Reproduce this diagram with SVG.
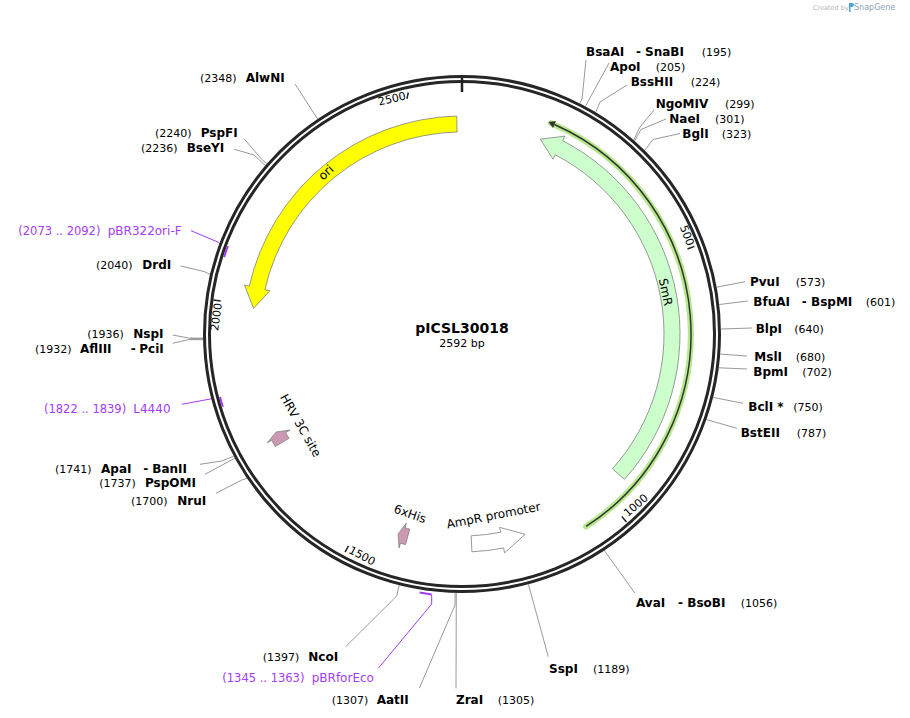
<svg xmlns="http://www.w3.org/2000/svg" width="910" height="718" viewBox="0 0 910 718">
<defs>
<style>
text { font-family: "DejaVu Sans", Verdana, sans-serif; }
.en { font-size: 12px; font-weight: bold; fill: #000; }
.num { font-size: 11px; fill: #000; }
.pr { font-size: 12px; fill: #a23cf4; }
.prn { font-size: 11.5px; fill: #a23cf4; }
.lead { stroke: #999; stroke-width: 1; fill: none; }
.plead { stroke: #a23cf4; stroke-width: 1; fill: none; }
.pmark { stroke: #a23cf4; stroke-width: 2; fill: none; }
.tick { stroke: #222; stroke-width: 1.5; }
.tl { font-size: 11px; fill: #000; }
.feat { stroke: #808080; stroke-width: 0.8; }
.fl { font-size: 12px; fill: #000; }
</style>
</defs>
<rect width="910" height="718" fill="#fff"/>

<g id="snapgene-credit">
<text x="813" y="10" style="font-size:6.5px;fill:#b5b5b5">Created by</text>
<path d="M849,3 h3 a2,2 0 0 1 0,4 h-1.5 v5 h-1.5 z" fill="#4aa3df"/>
<text x="854" y="10" style="font-size:8px;fill:#8ea2b8">SnapGene</text>
</g>

<g id="connectors">
<polyline class="lead" points="579.9,103.4 582,99 586,60"/>
<polyline class="lead" points="585.5,106.3 588,101.5 609,63"/>
<polyline class="lead" points="595.8,112.3 600,102 627,85"/>
<polyline class="lead" points="633.7,140.1 640,127 654,110"/>
<polyline class="lead" points="634.7,140.9 641,129.5 666,119"/>
<polyline class="lead" points="644.7,150.4 653,139.5 680,133.5"/>
<polyline class="lead" points="716.7,287.2 745,281.7"/>
<polyline class="lead" points="719.3,304.5 748,301"/>
<polyline class="lead" points="721,329 752,328"/>
<polyline class="lead" points="720.2,354.1 747,356"/>
<polyline class="lead" points="718.8,367.8 747,369"/>
<polyline class="lead" points="713.1,397.4 743,403.3"/>
<polyline class="lead" points="706.4,419.6 737,428.3"/>
<polyline class="lead" points="604.3,550.4 635,593.3"/>
<polyline class="lead" points="528.4,584.3 548.3,656.7"/>
<polyline class="lead" points="456.3,592.9 456,688.3"/>
<polyline class="lead" points="455.1,592.9 455,605 419.3,688.3"/>
<polyline class="lead" points="399.2,585.3 396.7,596 345.7,646.7"/>
<polyline class="plead" points="431.7,595 431.7,604 378.3,668.3"/>
<polyline class="plead" points="181.7,404.3 213,398.5 221,399"/>
<polyline class="plead" points="191,230.7 218.5,242.3 225.5,250"/>
<polyline class="lead" points="180.7,266 204,271.5 210,274.3"/>
<line x1="190" y1="338.8" x2="204" y2="338.8" stroke="#c4c4c4" stroke-width="3"/>
<polyline class="lead" points="172.7,335 190,338.3 203,338.8"/>
<polyline class="lead" points="172.7,343.3 190,339.3 203,339.5"/>
<polyline class="lead" points="200,464.3 221.7,461 233.7,456.3"/>
<polyline class="lead" points="205,474.3 233.3,459 234.9,458.5"/>
<polyline class="lead" points="216,493.3 241.7,480 247,478.4"/>
<polyline class="lead" points="295,84 317.6,119"/>
<polyline class="lead" points="244.3,139 261.7,159.3 266.9,163.6"/>
<polyline class="lead" points="234.3,149.3 254,155 265.3,165.5"/>
</g>

<g id="backbone">
<circle cx="462" cy="334" r="255" fill="none" stroke="#262626" stroke-width="8"/>
<circle cx="462" cy="334" r="255" fill="none" stroke="#fff" stroke-width="2"/>
<line x1="462" y1="78" x2="462" y2="92" stroke="#222" stroke-width="2.5"/>
<line class="tick" x1="408.3" y1="92.5" x2="406.9" y2="98.8"/>
<line class="tick" x1="694.4" y1="246.4" x2="687.5" y2="249"/>
<line class="tick" x1="626.5" y1="522" x2="621.8" y2="516.6"/>
<line class="tick" x1="345.1" y1="552.2" x2="348.4" y2="545.9"/>
<line class="tick" x1="213.5" y1="299.9" x2="220.7" y2="300.9"/>
<text class="tl" text-anchor="middle" dominant-baseline="central" transform="translate(392,99) rotate(-12.8)">2500</text>
<text class="tl" text-anchor="middle" dominant-baseline="central" transform="translate(686.7,235.5) rotate(69.4)">500</text>
<text class="tl" text-anchor="middle" dominant-baseline="central" transform="translate(636,505.5) rotate(-41.1)">1000</text>
<text class="tl" text-anchor="middle" dominant-baseline="central" transform="translate(362,556) rotate(28.3)">1500</text>
<text class="tl" text-anchor="middle" dominant-baseline="central" transform="translate(216.5,317) rotate(-82.2)">2000</text>
</g>

<g id="title">
<text x="462" y="333" text-anchor="middle" style="font-size:14px;font-weight:bold">pICSL30018</text>
<text x="462" y="347" text-anchor="middle" style="font-size:11px">2592 bp</text>
</g>

<g id="ori">
<path class="feat" fill="#ffff00" d="M456.71,116.06 A218,218 0 0 0 249.33,286.07 L244.46,284.97 L253.56,308.41 L269.82,290.69 L264.94,289.59 A202,202 0 0 1 457.10,132.06 Z"/>
<text class="fl" text-anchor="middle" dominant-baseline="central" transform="translate(326,172.5) rotate(-42)">ori</text>
</g>

<g id="SmR">
<path class="feat" fill="#ccffcc" d="M540.34,139.16 L564.97,136.20 L562.66,140.63 A218,218 0 0 1 624.43,479.40 L612.51,468.73 A202,202 0 0 0 555.27,154.82 L552.96,159.26 Z"/>
<text class="fl" text-anchor="middle" dominant-baseline="central" transform="translate(665.5,292) rotate(78.4)">SmR</text>
</g>

<g id="orf">
<path d="M586.05,526.49 A229,229 0 0 0 551,123.2" fill="none" stroke="#b6e88c" stroke-width="6" stroke-linecap="round"/>
<path d="M586.05,526.49 A229,229 0 0 0 554.41,124.47" fill="none" stroke="#333" stroke-width="1.5"/>
<polygon points="548.53,121.98 555.9,120.9 553.0,128" fill="#333"/>
</g>

<g id="AmpR-promoter">
<path class="feat" fill="#fff" d="M471.16,535.79 L471.89,551.78 A218,218 0 0 0 503.60,548.0 L504.55,552.90 L525.15,534.28 L499.59,527.38 L500.54,532.29 A202,202 0 0 1 471.16,535.79 Z"/>
<text class="fl" text-anchor="middle" dominant-baseline="central" transform="translate(493.5,515.5) rotate(-11)">AmpR promoter</text>
</g>

<g id="HRV-3C-site">
<path class="feat" fill="#cc99b3" d="M289.0,438.29 L275.30,446.55 A218,218 0 0 1 271.70,440.35 L267.33,442.79 L276.24,431.94 L290.03,430.11 L285.66,432.55 A202,202 0 0 0 289.0,438.29 Z"/>
<text class="fl" text-anchor="middle" dominant-baseline="central" transform="translate(300.5,425.5) rotate(60.5)">HRV 3C site</text>
</g>

<g id="6xHis">
<path class="feat" fill="#cc99b3" d="M409.72,529.12 L405.58,544.57 A218,218 0 0 1 400.45,543.13 L399.04,547.93 L398.15,534.06 L406.38,522.98 L404.97,527.78 A202,202 0 0 0 409.72,529.12 Z"/>
<text class="fl" text-anchor="middle" dominant-baseline="central" transform="translate(410,514) rotate(19)">6xHis</text>
</g>

<g id="primer-pBRforEco">
<path class="pmark" d="M419.6,592.5 A262,262 0 0 0 431.7,594.5"/>
<text class="prn" x="222.3" y="681.7">(1345 .. 1363)</text>
<text class="pr" x="311.7" y="681.7">pBRforEco</text>
</g>
<g id="primer-L4440">
<path class="pmark" d="M222.8,406.8 A250,250 0 0 1 220.1,396.9"/>
<text class="prn" x="44" y="413">(1822 .. 1839)</text>
<text class="pr" x="133.3" y="413">L4440</text>
</g>
<g id="primer-pBR322ori-F">
<path class="pmark" d="M224.1,257.1 A250,250 0 0 1 227.9,246.2"/>
<text class="prn" x="18.3" y="235">(2073 .. 2092)</text>
<text class="pr" x="107.7" y="235">pBR322ori-F</text>
</g>

<g id="site-BsaAI-SnaBI"><text class="en" x="586" y="56">BsaAI</text><text class="en" x="636" y="56">-</text><text class="en" x="645" y="56">SnaBI</text><text class="num" x="701.7" y="56">(195)</text></g>
<g id="site-ApoI"><text class="en" x="610" y="70.5">ApoI</text><text class="num" x="655.7" y="70.5">(205)</text></g>
<g id="site-BssHII"><text class="en" x="630.7" y="86">BssHII</text><text class="num" x="690.7" y="86">(224)</text></g>
<g id="site-NgoMIV"><text class="en" x="655.7" y="108">NgoMIV</text><text class="num" x="725" y="108">(299)</text></g>
<g id="site-NaeI"><text class="en" x="669.3" y="123.3">NaeI</text><text class="num" x="715" y="123.3">(301)</text></g>
<g id="site-BglI"><text class="en" x="682.3" y="138.3">BglI</text><text class="num" x="721.7" y="138.3">(323)</text></g>
<g id="site-PvuI"><text class="en" x="750" y="286">PvuI</text><text class="num" x="795.7" y="286">(573)</text></g>
<g id="site-BfuAI-BspMI"><text class="en" x="753.3" y="306">BfuAI</text><text class="en" x="801.7" y="306">-</text><text class="en" x="811" y="306">BspMI</text><text class="num" x="865.7" y="306">(601)</text></g>
<g id="site-BlpI"><text class="en" x="755.7" y="333.3">BlpI</text><text class="num" x="794.3" y="333.3">(640)</text></g>
<g id="site-MslI"><text class="en" x="754.3" y="361">MslI</text><text class="num" x="795.7" y="361">(680)</text></g>
<g id="site-BpmI"><text class="en" x="753.3" y="375.7">BpmI</text><text class="num" x="802.3" y="375.7">(702)</text></g>
<g id="site-BclI"><text class="en" x="748.3" y="410.7">BclI *</text><text class="num" x="793.3" y="410.7">(750)</text></g>
<g id="site-BstEII"><text class="en" x="740.7" y="437.3">BstEII</text><text class="num" x="796.7" y="437.3">(787)</text></g>
<g id="site-AvaI-BsoBI"><text class="en" x="636" y="606.7">AvaI</text><text class="en" x="678" y="606.7">-</text><text class="en" x="687.3" y="606.7">BsoBI</text><text class="num" x="740.7" y="606.7">(1056)</text></g>
<g id="site-SspI"><text class="en" x="549" y="673.3">SspI</text><text class="num" x="593" y="673.3">(1189)</text></g>
<g id="site-ZraI"><text class="en" x="456" y="704">ZraI</text><text class="num" x="497.7" y="704">(1305)</text></g>
<g id="site-AatII"><text class="num" x="331.7" y="704">(1307)</text><text class="en" x="376.7" y="704">AatII</text></g>
<g id="site-NcoI"><text class="num" x="262.7" y="660.7">(1397)</text><text class="en" x="308.3" y="660.7">NcoI</text></g>
<g id="site-ApaI-BanII"><text class="num" x="55" y="472.7">(1741)</text><text class="en" x="101" y="472.7">ApaI</text><text class="en" x="143.3" y="472.7">-</text><text class="en" x="152.3" y="472.7">BanII</text></g>
<g id="site-PspOMI"><text class="num" x="99.3" y="487.3">(1737)</text><text class="en" x="145" y="487.3">PspOMI</text></g>
<g id="site-NruI"><text class="num" x="131" y="505">(1700)</text><text class="en" x="177.3" y="505">NruI</text></g>
<g id="site-DrdI"><text class="num" x="96" y="269.3">(2040)</text><text class="en" x="142.3" y="269.3">DrdI</text></g>
<g id="site-NspI"><text class="num" x="87.3" y="338.3">(1936)</text><text class="en" x="133.3" y="338.3">NspI</text></g>
<g id="site-AflIII-PciI"><text class="num" x="35" y="352.7">(1932)</text><text class="en" x="80" y="352.7">AflIII</text><text class="en" x="130.7" y="352.7">-</text><text class="en" x="139.3" y="352.7">PciI</text></g>
<g id="site-AlwNI"><text class="num" x="200" y="81.7">(2348)</text><text class="en" x="245.7" y="81.7">AlwNI</text></g>
<g id="site-PspFI"><text class="num" x="155" y="136.7">(2240)</text><text class="en" x="200.7" y="136.7">PspFI</text></g>
<g id="site-BseYI"><text class="num" x="141" y="152.3">(2236)</text><text class="en" x="186.7" y="152.3">BseYI</text></g>
</svg>
